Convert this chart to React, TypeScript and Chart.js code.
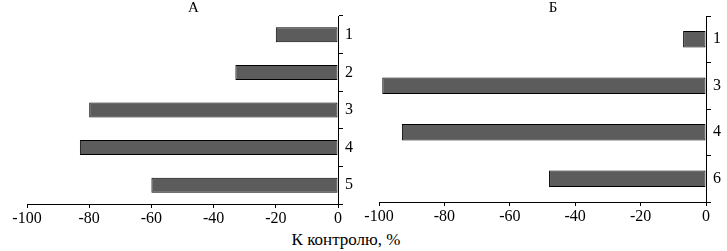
import React, { useEffect, useRef } from "react";
import { Chart, registerables } from "chart.js";

Chart.register(...registerables);

const categoriesA = ["1", "2", "3", "4", "5"];
const valuesA = [-20, -33, -80, -83, -60];
const categoriesB = ["1", "3", "4", "6"];
const valuesB = [-7, -99, -93, -48];
const xMin = -100;
const xMax = 0;
const xStep = 20;
const titleA = "А";
const titleB = "Б";
const axisTitle = "К контролю, %";

const FONT = "'Liberation Serif', 'Times New Roman', serif";

type PanelProps = {
  title: string;
  categories: string[];
  values: number[];
  left: number;
  width: number;
  height: number;
  padLeft: number;
  yWidth: number;
  xHeight: number;
  barPct: number;
};

function Panel(p: PanelProps) {
  const ref = useRef<HTMLCanvasElement | null>(null);
  useEffect(() => {
    if (!ref.current) return;
    const chart = new Chart(ref.current, {
      type: "bar",
      data: {
        labels: p.categories,
        datasets: [
          {
            data: p.values,
            backgroundColor: "#5c5c5c",
            borderColor: "#000000",
            borderWidth: 1,
            borderSkipped: false,
            barPercentage: p.barPct,
            categoryPercentage: 1,
          },
        ],
      },
      options: {
        indexAxis: "y",
        responsive: false,
        animation: false,
        layout: { padding: { left: p.padLeft, right: 0, top: 0, bottom: 0 } },
        plugins: {
          legend: { display: false },
          tooltip: { enabled: false },
          title: {
            display: true,
            text: p.title,
            color: "#000",
            font: { family: FONT, size: 15, weight: "normal", lineHeight: 1 },
            padding: { top: 1, bottom: 0 },
          },
        },
        scales: {
          x: {
            min: xMin,
            max: xMax,
            ticks: {
              stepSize: xStep,
              color: "#000",
              font: { family: FONT, size: 16 },
              padding: 1,
              maxRotation: 0,
              callback: (v: any) => String(v),
            },
            grid: {
              drawOnChartArea: false,
              drawTicks: true,
              tickLength: 4,
              color: "#000",
            },
            border: { display: true, color: "#000", width: 1 },
            afterFit: (s: any) => {
              s.height = p.xHeight;
            },
          },
          y: {
            position: "right",
            ticks: {
              color: "#000",
              font: { family: FONT, size: 16 },
              padding: 2,
            },
            grid: {
              drawOnChartArea: false,
              drawTicks: true,
              tickLength: 5,
              offset: true,
              color: "#000",
            },
            border: { display: true, color: "#000", width: 1 },
            afterFit: (s: any) => {
              s.width = p.yWidth;
            },
          },
        },
      },
    });
    return () => chart.destroy();
  }, []);
  return (
    <canvas
      ref={ref}
      width={p.width}
      height={p.height}
      style={{ position: "absolute", left: p.left, top: 0, width: p.width, height: p.height }}
    />
  );
}

export default function App() {
  return (
    <div
      style={{
        position: "absolute",
        left: 0,
        top: 0,
        width: 727,
        height: 251,
        background: "#fff",
        overflow: "hidden",
      }}
    >
      <Panel
        title={titleA}
        categories={categoriesA}
        values={valuesA}
        left={0}
        width={360}
        height={230}
        padLeft={27}
        yWidth={22}
        xHeight={26}
        barPct={0.4}
      />
      <Panel
        title={titleB}
        categories={categoriesB}
        values={valuesB}
        left={360}
        width={367}
        height={230}
        padLeft={19}
        yWidth={21}
        xHeight={28}
        barPct={0.35}
      />
      <div
        style={{
          position: "absolute",
          left: 0,
          width: 692,
          top: 230,
          textAlign: "center",
          fontFamily: FONT,
          fontSize: 17,
          color: "#000",
          lineHeight: "19px",
        }}
      >
        {axisTitle}
      </div>
    </div>
  );
}
